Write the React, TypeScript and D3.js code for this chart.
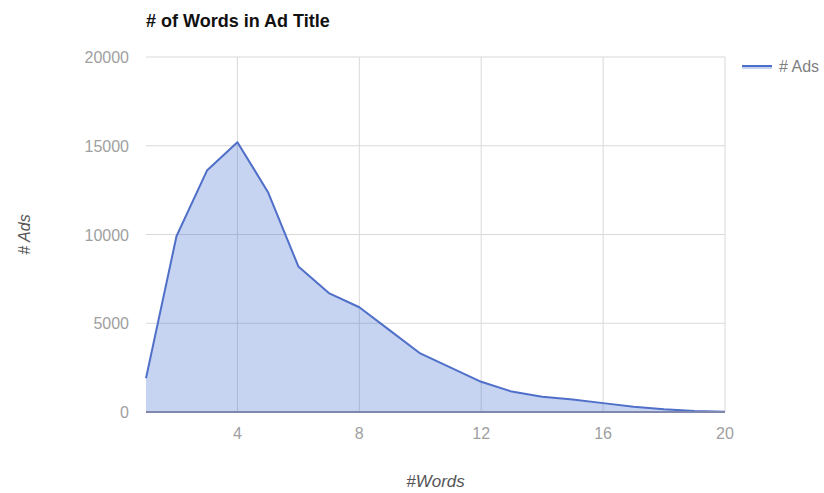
import React from "react";
import * as d3 from "d3";

const words = [1, 2, 3, 4, 5, 6, 7, 8, 9, 10, 11, 12, 13, 14, 15, 16, 17, 18, 19, 20];
const ads = [1900, 9900, 13600, 15200, 12400, 8200, 6700, 5900, 4600, 3300, 2500, 1700, 1150, 860, 700, 500, 300, 150, 60, 20];
const xTicks = [4, 8, 12, 16, 20];
const yTicks = [0, 5000, 10000, 15000, 20000];

const W = 824;
const H = 493;
const left = 146;
const right = 725;
const top = 57;
const bottom = 412;

export default function App() {
  const x = d3.scaleLinear().domain([1, 20]).range([left, right]);
  const y = d3.scaleLinear().domain([0, 20000]).range([bottom, top]);
  const pts = words.map((w, i) => [w, ads[i]] as [number, number]);
  const area = d3.area<[number, number]>().x(d => x(d[0])).y0(y(0)).y1(d => y(d[1]))(pts) || "";
  const line = d3.line<[number, number]>().x(d => x(d[0])).y(d => y(d[1]))(pts) || "";
  const font = "Arial, 'Liberation Sans', sans-serif";
  return (
    <svg width={W} height={H} style={{ position: "absolute", left: 0, top: 0, background: "#fff" }} fontFamily={font}>
      <text x={146} y={27} fontSize={18} fontWeight="bold" fill="#111">
        # of Words in Ad Title
      </text>
      {yTicks.map(t => (
        <g key={"y" + t}>
          {t > 0 && <line x1={left} x2={right} y1={y(t)} y2={y(t)} stroke="#d9d9d9" strokeWidth={1} />}
          <text x={129} y={y(t) + 6} textAnchor="end" fontSize={16} fill="#a0a0a0">
            {t}
          </text>
        </g>
      ))}
      {xTicks.map(t => (
        <g key={"x" + t}>
          <line x1={x(t)} x2={x(t)} y1={top} y2={bottom} stroke="#d9d9d9" strokeWidth={1} />
          <text x={x(t)} y={439} textAnchor="middle" fontSize={16} fill="#a0a0a0">
            {t}
          </text>
        </g>
      ))}
      <path d={area} fill="#3366cc" fillOpacity={0.28} />
      <path d={line} fill="none" stroke="#4f6fc8" strokeWidth={2} strokeLinejoin="round" />
      <line x1={left} x2={right} y1={y(0)} y2={y(0)} stroke="#8088ad" strokeWidth={2} />
      <text x={(left + right) / 2} y={487} textAnchor="middle" fontSize={17} fontStyle="italic" fill="#555">
        #Words
      </text>
      <text
        transform={`translate(30, ${(top + bottom) / 2}) rotate(-90)`}
        textAnchor="middle"
        fontSize={16}
        fontStyle="italic"
        fill="#555"
      >
        # Ads
      </text>
      <line x1={742} x2={772} y1={66} y2={66} stroke="#4f6fc8" strokeWidth={2} />
      <rect x={742} y={66} width={30} height={3} fill="#3366cc" fillOpacity={0.28} />
      <text x={779} y={72} fontSize={16} fill="#808080">
        # Ads
      </text>
    </svg>
  );
}
